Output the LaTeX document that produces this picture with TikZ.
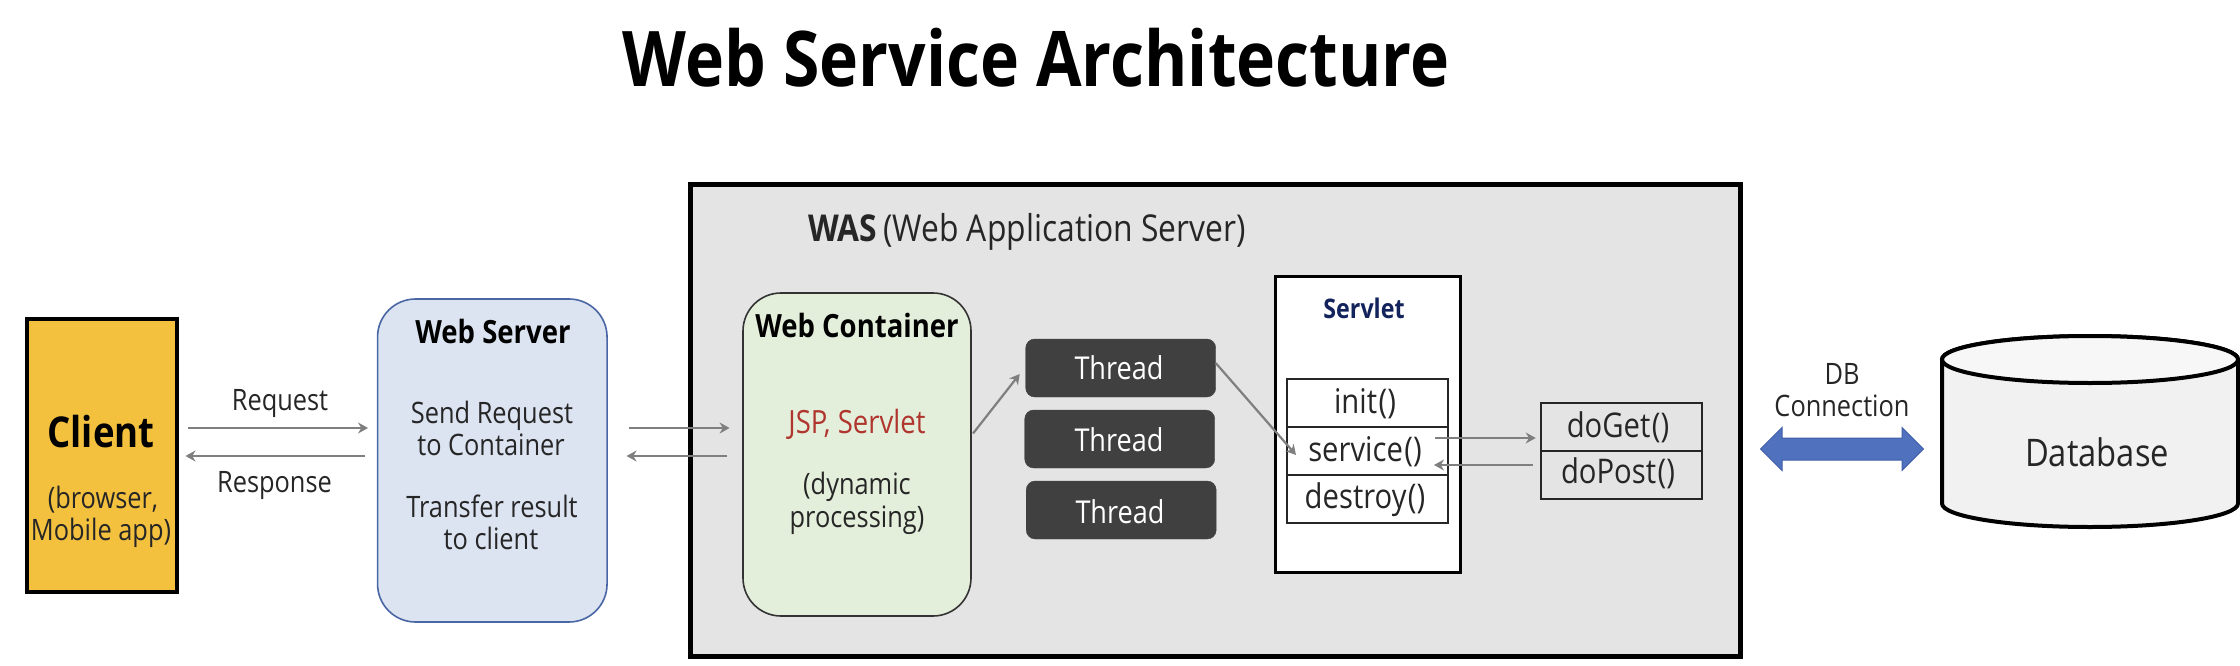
\documentclass[tikz,border=0pt]{standalone}
\usepackage{fontspec}
\setmainfont[FakeStretch=0.86]{Open Sans}
\usetikzlibrary{shapes.arrows,calc,arrows.meta}
\definecolor{clientfill}{HTML}{F4C13F}
\definecolor{wsfill}{HTML}{DCE3F1}
\definecolor{wsline}{HTML}{4A66A5}
\definecolor{wasfill}{HTML}{E4E4E4}
\definecolor{wcfill}{HTML}{E4EFDB}
\definecolor{threadfill}{HTML}{404040}
\definecolor{arrowgray}{HTML}{7F7F7F}
\definecolor{txt}{HTML}{262626}
\definecolor{jsp}{HTML}{B0352E}
\definecolor{navytxt}{HTML}{13235B}
\definecolor{dbblue}{HTML}{4F71BE}
\definecolor{dbline}{HTML}{3F5FA8}
\definecolor{dbside}{HTML}{F1F1F1}
\definecolor{dbtop}{HTML}{F7F7F7}
\tikzset{
  box/.style={draw, inner sep=0pt, outer sep=0pt},
  threadbox/.style={box, draw=threadfill, fill=threadfill, rounded corners=9pt, minimum width=190pt, minimum height=58pt},
  methodbox/.style={box, line width=1.8pt, draw=black!85, fill=white, minimum width=161pt, minimum height=48pt},
  flow/.style={draw=arrowgray, line width=2.2pt, -{Stealth[length=10pt,width=11pt]}},
  lbl/.style={inner sep=0pt, outer sep=0pt, text=txt, anchor=center, font=\fontsize{29.5}{32}\selectfont, text height=22pt, text depth=2pt},
  blbl/.style={lbl, text=black, font=\fontsize{32}{34}\selectfont\bfseries},
  threadlbl/.style={lbl, text=white, font=\fontsize{31.5}{34}\selectfont},
  methodlbl/.style={lbl, font=\fontsize{34}{36}\selectfont},
}
\newcommand{\parens}{\kern1.5pt()}
\begin{document}
\begin{tikzpicture}[x=1pt,y=-1pt]
\useasboundingbox (0,0) rectangle (2240,666);
\node[lbl, anchor=base, text=black, font=\fontsize{76.8}{90}\selectfont\bfseries, text height=58pt, text depth=0pt] (title) at (1036,87) {Web Service Architecture};
% WAS frame
\node[box, line width=5pt, fill=wasfill, minimum width=1050pt, minimum height=472pt] (was) at (1215.5,420.5) {};
\node[lbl, anchor=base west, font=\fontsize{37}{40}\selectfont] (waslabel) at (808,241) {\textbf{WAS}\,(Web Application Server)};
% Client
\node[box, line width=4pt, fill=clientfill, minimum width=150pt, minimum height=273pt] (client) at (101.5,455.5) {};
\node[blbl, font=\fontsize{42.5}{46}\selectfont\bfseries, text height=31pt, text depth=0pt] (clientT) at (101,432) {Client};
\node[lbl] (c1) at (103,498) {(browser,};
\node[lbl] (c2) at (101,530) {Mobile app)};
% Web server
\node[box, line width=1.6pt, draw=wsline, fill=wsfill, rounded corners=38pt, minimum width=229.5pt, minimum height=323pt] (ws) at (492.3,460.5) {};
\node[blbl] (wsT) at (493,333) {Web Server};
\node[lbl] (ws1) at (492,413) {Send Request};
\node[lbl] (ws2) at (491,445) {to Container};
\node[lbl] (ws3) at (492,507) {Transfer result};
\node[lbl] (ws4) at (491,539) {to client};
% Web container
\node[box, line width=1.6pt, draw=black!80, fill=wcfill, rounded corners=38pt, minimum width=228pt, minimum height=323pt] (wc) at (857,454.5) {};
\node[blbl] (wcT) at (857,327) {Web Container};
\node[lbl, text=jsp, font=\fontsize{32}{34}\selectfont] (wc1) at (857,423) {JSP, Servlet};
\node[lbl] (wc2) at (857,484) {(dynamic};
\node[lbl] (wc3) at (857,517) {processing)};
% Threads
\node[threadbox] (t1) at (1120.7,368) {};
\node[threadbox] (t2) at (1119.7,439) {};
\node[threadbox] (t3) at (1121.2,510) {};
\node[threadlbl] (t1T) at (1119,369) {Thread};
\node[threadlbl] (t2T) at (1119,441) {Thread};
\node[threadlbl] (t3T) at (1120,513) {Thread};
% Servlet
\node[box, line width=3pt, fill=white, minimum width=185.5pt, minimum height=296pt] (servlet) at (1368.2,424) {};
\node[blbl, text=navytxt, font=\fontsize{27}{30}\selectfont\bfseries] (servletT) at (1364,308) {Servlet};
\node[methodbox] (init) at (1367.5,403) {};
\node[methodbox] (service) at (1367.5,451) {};
\node[methodbox] (destroy) at (1367.5,499) {};
\node[methodlbl] at (1365,403) (initT) {init\parens};
\node[methodlbl] at (1365,451) (serviceT) {service\parens};
\node[methodlbl] at (1365,498) (destroyT) {destroy\parens};
% doGet / doPost
\node[methodbox, fill=wasfill] (doget) at (1621.2,427) {};
\node[methodbox, fill=wasfill] (dopost) at (1621.2,475) {};
\node[methodlbl] (dogetT) at (1618,427) {doGet\parens};
\node[methodlbl] (dopostT) at (1618,473) {doPost\parens};
% connectors
\coordinate (ya) at (0,428);
\coordinate (yb) at (0,456);
\coordinate (yc) at (0,438);
\coordinate (yd) at (0,465);
\draw[flow, shorten <=11.5pt, shorten >=9.5pt] (client.east |- ya) -- (ws.west |- ya);
\draw[flow, shorten <=12.5pt, shorten >=9pt] (ws.west |- yb) -- (client.east |- yb);
\draw[flow, shorten <=21.5pt, shorten >=13.4pt] (ws.east |- ya) -- (wc.west |- ya);
\draw[flow, shorten <=16pt, shorten >=19.5pt] (wc.west |- yb) -- (ws.east |- yb);
\coordinate (wcout) at ($(wc.east)+(2,-21)$);
\coordinate (t1in) at ($(t1.west)+(-6,6)$);
\draw[flow] (wcout) -- (t1in);
\coordinate (svcin) at (1296,455);
\draw[flow] ($(t1.east)+(0,-5)$) -- (svcin);
\draw[flow, shorten <=-13pt, shorten >=5pt] (service.east |- yc) -- (doget.west |- yc);
\draw[flow, shorten <=8pt, shorten >=-14pt] (doget.west |- yd) -- (service.east |- yd);
\node[lbl] (req) at (280,400) {Request};
\node[lbl] (resp) at (274.5,482) {Response};
\node[lbl] (db1) at (1842,374) {DB};
\node[lbl] (db2) at (1842,406) {Connection};
% DB arrow
\node[double arrow, draw=dbline, line width=1pt, fill=dbblue, inner sep=0pt, text height=21pt, text depth=0pt, minimum width=42pt, minimum height=163pt, double arrow head extend=10.5pt, double arrow head indent=0pt] (dbarrow) at (1842,449) {};
% Database
\draw[line width=4pt, fill=dbside] (1942,359.5) -- (1942,503.5) arc[start angle=180, end angle=360, x radius=148pt, y radius=23.5pt] -- (2238,359.5) arc[start angle=0, end angle=180, x radius=148pt, y radius=23.5pt] -- cycle;
\draw[line width=4pt, fill=dbtop] (2090,359.5) ellipse[x radius=148pt, y radius=23.5pt];
\node[lbl, font=\fontsize{38}{40}\selectfont, text height=28pt, text depth=2pt] (database) at (2097,453) {Database};
\end{tikzpicture}
\end{document}
